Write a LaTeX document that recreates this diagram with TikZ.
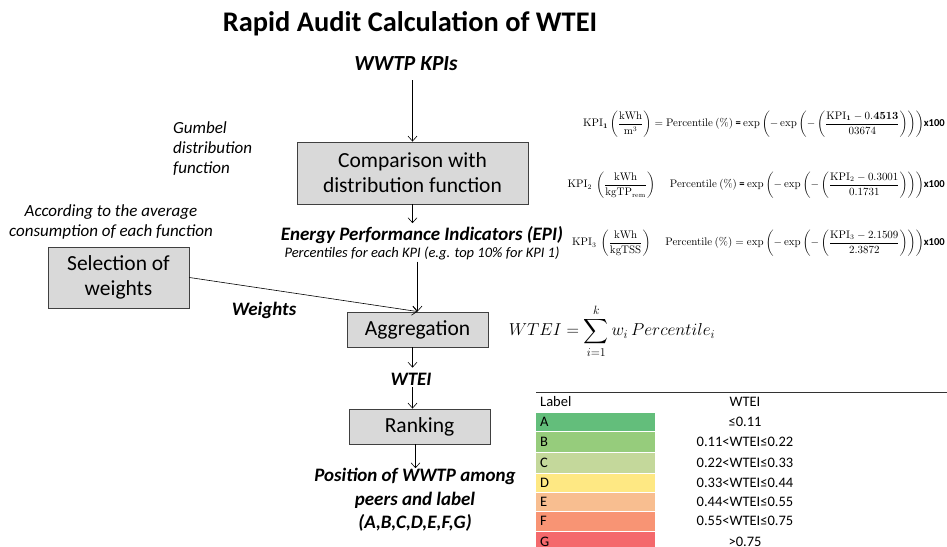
\documentclass[tikz,border=0pt]{standalone}
\usepackage{amsmath}
\usepackage[no-math]{fontspec}
\setmainfont{Carlito}
\usetikzlibrary{arrows.meta}
\definecolor{boxfill}{RGB}{217,217,217}
\definecolor{boxline}{RGB}{64,64,64}
\definecolor{cA}{RGB}{99,190,123}
\definecolor{cB}{RGB}{150,204,124}
\definecolor{cC}{RGB}{196,216,155}
\definecolor{cD}{RGB}{254,232,131}
\definecolor{cE}{RGB}{248,190,144}
\definecolor{cF}{RGB}{248,148,116}
\definecolor{cG}{RGB}{244,105,108}
\begin{document}
\begin{tikzpicture}[x=1pt,y=-1pt,
  box/.style={draw=boxline, fill=boxfill, line width=0.9pt, inner sep=0pt, align=center, font=\fontsize{21.5}{25}\selectfont},
  arr/.style={-{Straight Barb[length=5pt,width=9pt]}, line width=0.6pt},
  blab/.style={font=\bfseries\itshape\fontsize{19}{22}\selectfont, align=center, inner sep=1pt},
  ilab/.style={font=\itshape\fontsize{17}{20}\selectfont, inner sep=0pt},
  frm/.style={font=\fontsize{10.6}{12}\selectfont, inner sep=0pt, anchor=east},
  rowtxt/.style={font=\fontsize{14.5}{16}\selectfont, inner sep=0pt}
]
\useasboundingbox (0,0) rectangle (947,546);

% title
\node[font=\bfseries\fontsize{28.4}{32}\selectfont, inner sep=0pt] (title) at (410,24) {Rapid Audit Calculation of WTEI};

% main flow
\node[blab, font=\bfseries\itshape\fontsize{21.5}{24}\selectfont] (kpis) at (406,64) {WWTP KPIs};
\node[box, minimum width=231, minimum height=62] (comp) at (412.5,173) {Comparison with\\distribution function};
\node[ilab, align=left, anchor=north west] (gumbel) at (173,121) {Gumbel\\distribution\\function};
\node[blab] (epi) at (422,235) {Energy Performance Indicators (EPI)};
\node[font=\itshape\fontsize{14.5}{16}\selectfont, inner sep=1pt] (pct) at (422,253) {Percentiles for each KPI (e.g. top 10\% for KPI 1)};

\node[ilab, align=center] (accord) at (111,222) {According to the average\\consumption of each function};
\node[box, minimum width=141, minimum height=61] (sel) at (118.5,277.5) {Selection of\\weights};
\node[blab] (weights) at (264,310) {Weights};

\node[box, minimum width=141, minimum height=35] (agg) at (417.5,329.5) {Aggregation};
\node[font=\fontsize{17}{20}\selectfont, inner sep=0pt] (wtei) at (612,331) {$WTEI = \displaystyle\sum_{i=1}^{k} w_i\, Percentile_i$};

\node[blab] (wteilab) at (411,379) {WTEI};
\node[box, minimum width=141, minimum height=35] (rank) at (419.5,426.5) {Ranking};
\node[blab, align=center, font=\bfseries\itshape\fontsize{19}{23.5}\selectfont] (pos) at (415,500) {Position of WWTP among\\peers and label\\(A,B,C,D,E,F,G)};

% arrows
\draw[arr] ([yshift=-8]kpis.south -| comp.north) -- (comp.north);
\draw[arr] (comp.south) -- ([yshift=2]comp.south |- epi.north);
\draw[arr] ([yshift=-1]agg.north |- pct.south) -- (agg.north);
\draw[arr] (sel.east) -- (agg.north);
\draw[arr] ([xshift=-5]agg.south) -- ([xshift=-5,yshift=4]agg.south |- wteilab.north);
\draw[arr] ([xshift=-5,yshift=-1]agg.south |- wteilab.south) -- ([xshift=-5]agg.south |- rank.north);
\draw[arr] ([xshift=-4]rank.south) -- ([xshift=-4,yshift=-1]rank.south |- pos.north);

% formulas
\node[frm] (f1) at (945,124) {$\mathrm{KPI}_{\mathbf{1}}\left(\dfrac{\mathrm{kWh}}{\mathrm{m}^3}\right) = \mathrm{Percentile}\ (\%)$ \textbf{=} $\exp\left(-\exp\left(-\left(\dfrac{\mathrm{KPI}_{\mathbf{1}}-0.\mathbf{4513}}{03674}\right)\right)\right)$\textbf{x100}};
\node[frm] (f2) at (945,185) {$\mathrm{KPI}_2\ \left(\dfrac{\mathrm{kWh}}{\mathrm{kgTP}_{\mathrm{rem}}}\right)\quad\ \mathrm{Percentile}\ (\%)$ \textbf{=} $\exp\left(-\exp\left(-\left(\dfrac{\mathrm{KPI}_2-0.3001}{0.1731}\right)\right)\right)$\textbf{x100}};
\node[frm] (f3) at (945,243) {$\mathrm{KPI}_3\ \left(\dfrac{\mathrm{kWh}}{\mathrm{kgTSS}}\right)\quad\ \mathrm{Percentile}\ (\%) = \exp\left(-\exp\left(-\left(\dfrac{\mathrm{KPI}_3-2.1509}{2.3872}\right)\right)\right)$\textbf{x100}};

% table
\draw[line width=0.8pt, black!80] (536,392.5) -- (947,392.5);
\node[rowtxt, anchor=west] (hl) at (540,402) {Label};
\node[rowtxt] (hw) at (745,402) {WTEI};
\foreach \c/\l/\v/\ya/\yb in {cA/A/≤0.11/412.5/431, cB/B/0.11<WTEI≤0.22/432/452, cC/C/0.22<WTEI≤0.33/453/472.5, cD/D/0.33<WTEI≤0.44/473.5/491.5, cE/E/0.44<WTEI≤0.55/492.5/511, cF/F/0.55<WTEI≤0.75/512/530.5, cG/G/>0.75/531.5/552} {
  \fill[\c] (536,\ya) rectangle (655,\yb);
  \node[rowtxt, anchor=west] (l\l) at (540,{(\ya+\yb)/2}) {\l};
  \node[rowtxt] (v\l) at (745,{(\ya+\yb)/2}) {\v};
}
\end{tikzpicture}
\end{document}
